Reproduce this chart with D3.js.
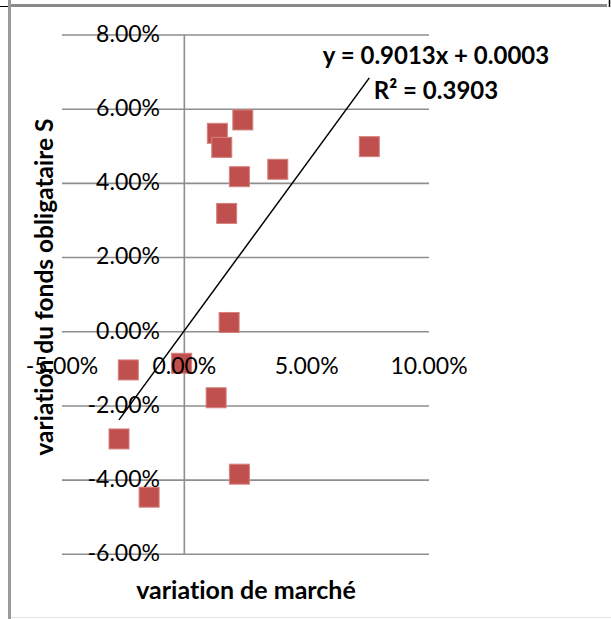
<!DOCTYPE html>
<html>
<head>
<meta charset="utf-8">
<script src="https://cdn.jsdelivr.net/npm/d3@7"></script>
<style>
  html, body { margin: 0; padding: 0; background: #fff; }
  svg { display: block; }
  text { font-family: Lato, "Open Sans", sans-serif; fill: #000; font-variant-ligatures: none; font-feature-settings: "liga" 0, "clig" 0; }
</style>
</head>
<body>
<svg id="chart" width="611" height="619"></svg>
<script>
// ---- data (fractions) ----
const marketVar = [0.0239, 0.0135, 0.0153, 0.0756, 0.0382, 0.0225, 0.0173, 0.0183, -0.0011, -0.0229, 0.0130, -0.0267, 0.0225, -0.0144];
const fundVar   = [0.0571, 0.0535, 0.0497, 0.0499, 0.0438, 0.0418, 0.0319, 0.0025, -0.0085, -0.0103, -0.0178, -0.0289, -0.0384, -0.0446];
const xTicks = [-0.05, 0, 0.05, 0.10];
const yTicks = [-0.06, -0.04, -0.02, 0, 0.02, 0.04, 0.06, 0.08];
const trendSlope = 0.9013;
const trendIntercept = 0.0003;
const trendR2 = 0.3903;
const xTitle = "variation de marché";
const yTitle = "variation du fonds obligataire S";

const svg = d3.select("#chart");
const fmt = v => (v * 100).toFixed(2) + "%";

const x = d3.scaleLinear().domain([-0.05, 0.10]).range([62, 429]);
const y = d3.scaleLinear().domain([-0.06, 0.08]).range([554.3, 35]);

// ---- outer frame pieces ----
svg.append("line").attr("x1", 9.5).attr("x2", 9.5).attr("y1", 0).attr("y2", 619)
  .attr("stroke", "#9a9a9a").attr("stroke-width", 3);
svg.append("line").attr("x1", 11).attr("x2", 607).attr("y1", 5.5).attr("y2", 5.5)
  .attr("stroke", "#8a8a8a").attr("stroke-width", 3);
svg.append("line").attr("x1", 0).attr("x2", 8).attr("y1", 6.5).attr("y2", 6.5)
  .attr("stroke", "#000").attr("stroke-width", 1);
svg.append("line").attr("x1", 609.5).attr("x2", 609.5).attr("y1", 0).attr("y2", 7)
  .attr("stroke", "#000").attr("stroke-width", 1.5);
svg.append("line").attr("x1", 11).attr("x2", 611).attr("y1", 617.5).attr("y2", 617.5)
  .attr("stroke", "#e2e2e2").attr("stroke-width", 1);

// ---- gridlines ----
svg.append("g").selectAll("line").data(yTicks).join("line")
  .attr("x1", x.range()[0]).attr("x2", x.range()[1])
  .attr("y1", d => y(d)).attr("y2", d => y(d))
  .attr("stroke", "#8e8e8e").attr("stroke-width", 1.6);

// vertical axis at x = 0
svg.append("line").attr("x1", x(0)).attr("x2", x(0))
  .attr("y1", y.range()[1]).attr("y2", y.range()[0])
  .attr("stroke", "#8e8e8e").attr("stroke-width", 1.6);

// ---- trendline ----
const xr = d3.extent(marketVar);
svg.append("line")
  .attr("x1", x(xr[0])).attr("y1", y(trendSlope * xr[0] + trendIntercept))
  .attr("x2", x(xr[1])).attr("y2", y(trendSlope * xr[1] + trendIntercept))
  .attr("stroke", "#000").attr("stroke-width", 1.5);

// ---- markers ----
const s = 20;
svg.append("g").selectAll("rect").data(marketVar.map((m, i) => [m, fundVar[i]])).join("rect")
  .attr("x", d => x(d[0]) - s / 2).attr("y", d => y(d[1]) - s / 2)
  .attr("width", s).attr("height", s)
  .attr("fill", "#c0504d").attr("stroke", "#d4817f").attr("stroke-width", 1);

// ---- tick labels (drawn above markers) ----
svg.append("g").selectAll("text").data(yTicks).join("text")
  .attr("x", 160).attr("y", d => y(d)).attr("dy", "0.3em")
  .attr("text-anchor", "end").attr("font-size", 23)
  .text(d => fmt(d));

svg.append("g").selectAll("text").data(xTicks).join("text")
  .attr("x", d => x(d)).attr("y", y(0) + 42)
  .attr("text-anchor", "middle").attr("font-size", 23)
  .text(d => fmt(d));

// ---- equation ----
svg.append("text").attr("x", 436).attr("y", 64).attr("text-anchor", "middle")
  .attr("font-size", 24).attr("font-weight", "bold")
  .text(`y = ${trendSlope}x + ${trendIntercept.toFixed(4)}`);
svg.append("text").attr("x", 436).attr("y", 99).attr("text-anchor", "middle")
  .attr("font-size", 24).attr("font-weight", "bold")
  .text(`R² = ${trendR2}`);

// ---- titles ----
svg.append("text").attr("x", 246).attr("y", 599).attr("text-anchor", "middle")
  .attr("font-size", 25).attr("font-weight", "bold").text(xTitle);
svg.append("text").attr("transform", "translate(53,287) rotate(-90)")
  .attr("text-anchor", "middle")
  .attr("font-size", 24.5).attr("font-weight", "bold").text(yTitle);
</script>
</body>
</html>
